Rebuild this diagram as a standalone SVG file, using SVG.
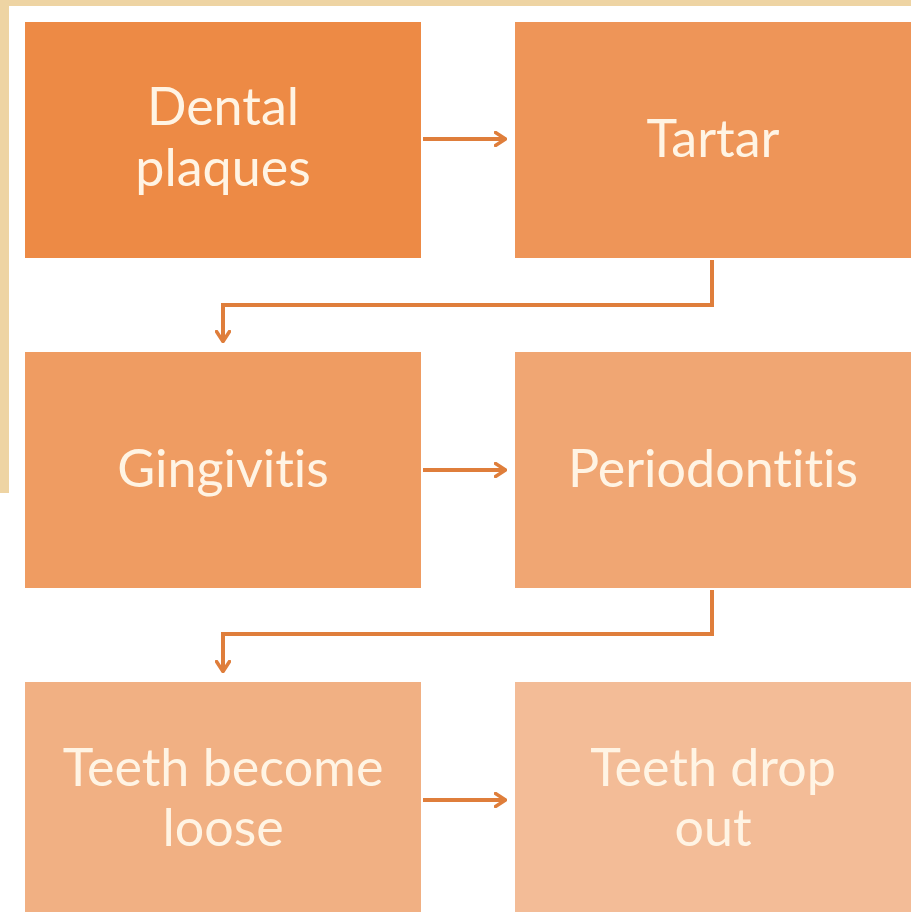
<svg xmlns="http://www.w3.org/2000/svg" width="911" height="912" viewBox="0 0 911 912">
  <defs>
    <style>
      .lbl { font-family: Lato, "Open Sans", "Liberation Sans", sans-serif; font-size: 52px; fill: #FFF4E4; text-anchor: middle; font-variant-ligatures: none; }
      .con { fill: none; stroke: #DF7E3B; stroke-width: 4; }
    </style>
    <marker id="ah" viewBox="0 0 13 16" refX="12" refY="8" markerWidth="13" markerHeight="16" markerUnits="userSpaceOnUse" orient="auto">
      <path d="M1.5,1.5 L11.5,8 L1.5,14.5" fill="none" stroke="#DF7E3B" stroke-width="3.5" stroke-linecap="round" stroke-linejoin="round"/>
    </marker>
  </defs>
  <rect x="0" y="0" width="911" height="912" fill="#FFFFFF"/>
  <rect x="0" y="0" width="911" height="6" fill="#EED4A3"/>
  <rect x="0" y="0" width="9" height="493" fill="#EED4A3"/>

  <g id="connectors">
    <path class="con" d="M423,139 H506" marker-end="url(#ah)"/>
    <path class="con" d="M712,260 V305 H223 V342" marker-end="url(#ah)"/>
    <path class="con" d="M423,470 H506" marker-end="url(#ah)"/>
    <path class="con" d="M712,590 V634 H223 V672" marker-end="url(#ah)"/>
    <path class="con" d="M423,800 H506" marker-end="url(#ah)"/>
  </g>

  <g id="node-dental-plaques">
    <rect x="25" y="22" width="396" height="236" fill="#ED8A45"/>
    <text class="lbl" x="223" y="125">Dental</text>
    <text class="lbl" x="223" y="186">plaques</text>
  </g>
  <g id="node-tartar">
    <rect x="515" y="22" width="396" height="236" fill="#EE9558"/>
    <text class="lbl" x="713" y="157">Tartar</text>
  </g>
  <g id="node-gingivitis">
    <rect x="25" y="352" width="396" height="236" fill="#EF9C62"/>
    <text class="lbl" x="223" y="487">Gingivitis</text>
  </g>
  <g id="node-periodontitis">
    <rect x="515" y="352" width="396" height="236" fill="#F0A673"/>
    <text class="lbl" x="713" y="487">Periodontitis</text>
  </g>
  <g id="node-teeth-loose">
    <rect x="25" y="682" width="396" height="240" fill="#F1B083"/>
    <text class="lbl" x="223" y="786">Teeth become</text>
    <text class="lbl" x="223" y="846">loose</text>
  </g>
  <g id="node-teeth-drop">
    <rect x="515" y="682" width="396" height="240" fill="#F3BC97"/>
    <text class="lbl" x="713" y="786">Teeth drop</text>
    <text class="lbl" x="713" y="846">out</text>
  </g>
</svg>
